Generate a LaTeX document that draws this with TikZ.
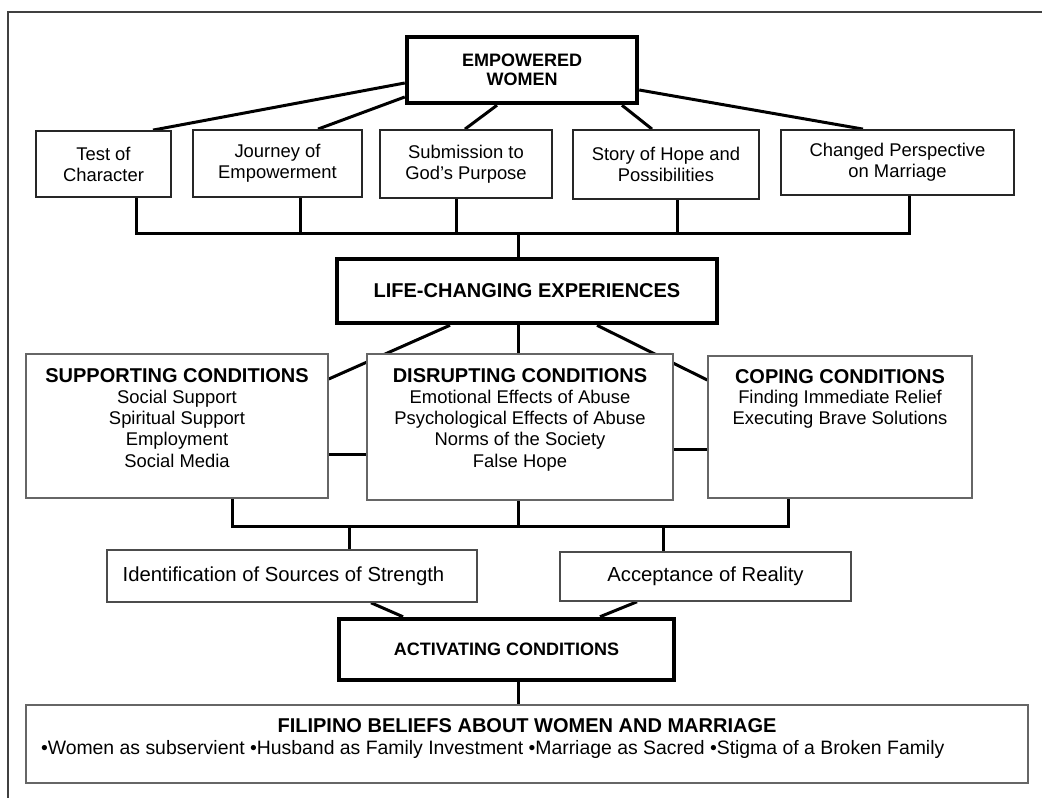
\documentclass[tikz,border=0pt]{standalone}
\usepackage{fontspec}
\setmainfont{Liberation Sans}
\usetikzlibrary{calc,backgrounds}
\tikzset{
  conn/.style={line width=3pt, draw=black},
  thickbox/.style={draw=black, line width=4.5pt, fill=white, inner sep=0pt, align=center,
    font=\bfseries\fontsize{18}{19.5}\selectfont},
  rowbox/.style={draw=black!85, line width=1.8pt, fill=white, inner sep=0pt, align=center,
    font=\fontsize{18.4}{21}\selectfont},
  condbox/.style={draw=black!60, line width=1.5pt, fill=white, inner sep=0pt},
  thinbox/.style={draw=black!70, line width=1.5pt, fill=white, inner sep=0pt,
    font=\fontsize{20.3}{22}\selectfont},
  frameline/.style={draw=black!75, line width=1.5pt}
}
\begin{document}
\begin{tikzpicture}[x=1pt,y=-1pt]
\useasboundingbox (0,0) rectangle (1042,798);
\draw[frameline] (8,798) -- (8,12) -- (1042,12);

% top
\node[thickbox, minimum width=230pt, minimum height=66pt] (emp) at (522,70) {EMPOWERED\\WOMEN};
\node[rowbox, minimum width=135pt, minimum height=66pt] (test) at (103.5,164) {Test of\\Character};
\node[rowbox, minimum width=169pt, minimum height=67pt] (jour) at (277.5,163.5) {Journey of\\Empowerment};
\node[rowbox, minimum width=172pt, minimum height=68pt] (subm) at (466,164) {Submission to\\God’s Purpose};
\node[rowbox, minimum width=186pt, minimum height=69pt] (story) at (666,164.5) {Story of Hope and\\Possibilities};
\node[rowbox, minimum width=233pt, minimum height=65pt] (chg) at (897.5,162.5) {Changed Perspective\\on Marriage};

\node[thickbox, font=\bfseries\fontsize{20}{22}\selectfont, minimum width=380pt, minimum height=64pt] (life) at (527,291) {LIFE-CHANGING EXPERIENCES};

\node[condbox] (supp) at (177,426) {\parbox[c][144pt][t]{302pt}{\centering\fontsize{18.4}{21.3}\selectfont\rule{0pt}{28pt}{\bfseries\fontsize{20}{21.3}\selectfont SUPPORTING CONDITIONS}\\Social Support\\Spiritual Support\\Employment\\Social Media}};
\node[condbox] (disr) at (520,427) {\parbox[c][146pt][t]{306pt}{\centering\fontsize{18.4}{21.3}\selectfont\rule{0pt}{28pt}{\bfseries\fontsize{20}{21.3}\selectfont DISRUPTING CONDITIONS}\\Emotional Effects of Abuse\\Psychological Effects of Abuse\\Norms of the Society\\False Hope}};
\node[condbox] (cope) at (840,427) {\parbox[c][142pt][t]{264pt}{\centering\fontsize{18.4}{20.5}\selectfont\rule{0pt}{27pt}{\bfseries\fontsize{20}{20.5}\selectfont COPING CONDITIONS}\\Finding Immediate Relief\\Executing Brave Solutions}};

\node[thinbox, minimum width=370pt, minimum height=52pt] (ident) at (292,576) {\hspace*{-17pt}Identification of Sources of Strength};
\node[thinbox, minimum width=291pt, minimum height=49pt] (acc) at (705.5,576.5) {Acceptance of Reality};

\node[thickbox, minimum width=335pt, minimum height=61pt] (act) at (506.5,649.5) {ACTIVATING CONDITIONS};

\node[condbox] (fil) at (527,744) {\parbox[c][78pt][t]{1002pt}{\fontsize{19.4}{22}\selectfont\rule{0pt}{27pt}\makebox[1002pt][c]{\bfseries\fontsize{20}{22}\selectfont FILIPINO BELIEFS ABOUT WOMEN AND MARRIAGE}\\\hspace*{15pt}•Women as subservient •Husband as Family Investment •Marriage as Sacred •Stigma of a Broken Family}};

\begin{pgfonlayer}{background}
\draw[conn] ([yshift=-13pt]emp.west) -- ([xshift=49.5pt]test.north);
\draw[conn] ([yshift=-27pt]emp.west) -- ([xshift=40.5pt]jour.north);
\draw[conn] ([xshift=-25pt]emp.south) -- ([xshift=-1pt]subm.north);
\draw[conn] ([xshift=100pt]emp.south) -- ([xshift=-14pt]story.north);
\draw[conn] ([yshift=-20pt]emp.east) -- ([xshift=-34.5pt]chg.north);

\coordinate (ba) at (136,233);
\coordinate (bb) at (300,233);
\coordinate (bc) at (456,233);
\coordinate (bd) at (677,233);
\coordinate (be) at (909,233);
\coordinate (bm) at (518,233);
\draw[conn] (ba |- test.south) -- (ba) -- (be) -- (be |- chg.south);
\draw[conn] (bb |- jour.south) -- (bb);
\draw[conn] (bc |- subm.south) -- (bc);
\draw[conn] (bd |- story.south) -- (bd);
\draw[conn] (bm) -- (bm |- life.north);

\draw[conn] (bm |- life.south) -- (bm |- disr.north);
\draw[conn] ([xshift=-77pt]life.south) -- ([yshift=47pt]supp.east);
\draw[conn] ([xshift=70pt]life.south) -- ([yshift=47pt]cope.west);
\coordinate (sd) at ([yshift=-28pt]supp.east);
\draw[conn] (sd) -- (sd -| disr.west);
\coordinate (dc) at ([yshift=-22pt]disr.east);
\draw[conn] (dc) -- (dc -| cope.west);

\coordinate (la) at (232,526);
\coordinate (lm) at (518,526);
\coordinate (lb) at (788,526);
\coordinate (li) at (349,526);
\coordinate (lc) at (663,526);
\draw[conn] (la |- supp.south) -- (la) -- (lb) -- (lb |- cope.south);
\draw[conn] (lm |- disr.south) -- (lm);
\draw[conn] (li) -- (li |- ident.north);
\draw[conn] (lc) -- (lc |- acc.north);
\draw[conn] ([xshift=79pt]ident.south) -- ([xshift=-103.5pt]act.north);
\draw[conn] ([xshift=-68.5pt]acc.south) -- ([xshift=93.5pt]act.north);
\draw[conn] (lm |- act.south) -- (lm |- fil.north);
\end{pgfonlayer}
\end{tikzpicture}
\end{document}
